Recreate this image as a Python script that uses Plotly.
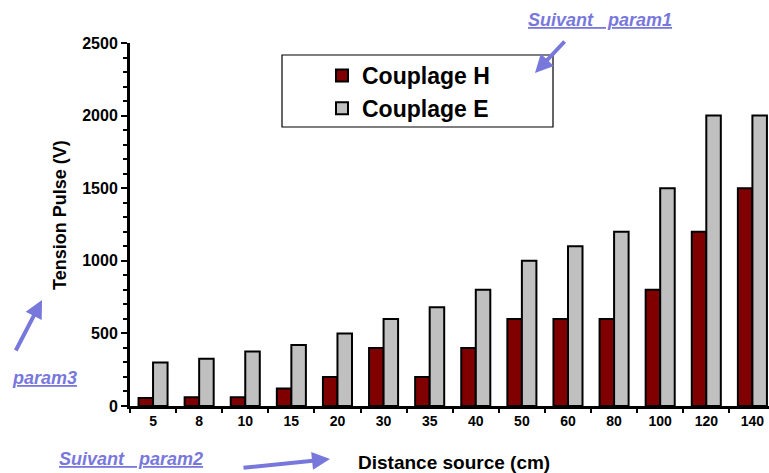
import plotly.graph_objects as go

categories = ["5", "8", "10", "15", "20", "30", "35", "40", "50", "60", "80", "100", "120", "140"]
couplage_h = [55, 60, 60, 120, 200, 400, 200, 400, 600, 600, 600, 800, 1200, 1500]
couplage_e = [300, 325, 375, 420, 500, 600, 680, 800, 1000, 1100, 1200, 1500, 2000, 2000]

FONT = "Arial, Liberation Sans, sans-serif"
BLUE = "#7878dc"

W, H = 769, 473
L, R, T, B = 130, 0, 43, 67
PW, PH = W - L - R, H - T - B


def px(x):
    return (x - L) / PW


def py(y):
    return (H - B - y) / PH


fig = go.Figure()
fig.add_trace(go.Bar(name="Couplage H", x=categories, y=couplage_h, legendgroup="h",
                     marker=dict(color="#800000", line=dict(color="black", width=2))))
fig.add_trace(go.Bar(name="Couplage E", x=categories, y=couplage_e, legendgroup="e",
                     marker=dict(color="#c0c0c0", line=dict(color="black", width=2))))

fig.update_layout(
    width=W, height=H,
    margin=dict(l=L, r=R, t=T, b=B, autoexpand=False),
    paper_bgcolor="white", plot_bgcolor="white",
    barmode="group", bargap=0.37, bargroupgap=0,
    font=dict(family=FONT, color="black"),
    showlegend=True,
    legend=dict(x=px(322), y=py(54), xanchor="left", yanchor="top",
                bgcolor="rgba(0,0,0,0)", borderwidth=0, tracegroupgap=0,
                font=dict(size=23, family=FONT, color="black", weight="bold")),
    xaxis=dict(type="category", range=[-0.5, 13.36], automargin=False,
               showline=True, linewidth=3, linecolor="black",
               ticks="outside", tickson="boundaries", ticklen=4, tickwidth=2, tickcolor="black",
               showgrid=False, zeroline=False,
               tickfont=dict(size=14, family=FONT, weight="bold")),
    yaxis=dict(range=[0, 2500], automargin=False,
               showline=True, linewidth=3, linecolor="black",
               ticks="outside", ticklen=6, tickwidth=2, tickcolor="black",
               tickvals=[0, 500, 1000, 1500, 2000, 2500],
               minor=dict(dtick=100, ticks="outside", ticklen=4, tickwidth=2, tickcolor="black"),
               showgrid=False, zeroline=False,
               tickfont=dict(size=16, family=FONT, weight="bold")),
)

# axis titles
fig.add_annotation(xref="paper", yref="paper", x=px(60), y=py(215), text="Tension Pulse (V)",
                   textangle=-90, showarrow=False, xanchor="center", yanchor="middle",
                   font=dict(size=18, family=FONT, color="black", weight="bold"))
fig.add_annotation(xref="paper", yref="paper", x=px(454), y=py(462), text="Distance source (cm)",
                   showarrow=False, xanchor="center", yanchor="middle",
                   font=dict(size=19, family=FONT, color="black", weight="bold"))

# legend frame
fig.add_shape(type="rect", xref="paper", yref="paper",
              x0=px(282), x1=px(553), y0=py(127), y1=py(55),
              line=dict(color="black", width=1.2), fillcolor="rgba(0,0,0,0)")

ann_font = dict(size=18, family=FONT, color=BLUE, weight="bold", style="italic")
for txt, x, y in [("<u>Suivant&nbsp;&nbsp;&nbsp;param1</u>", 600, 20),
                  ("<u>param3</u>", 44, 378),
                  ("<u>Suivant&nbsp;&nbsp;&nbsp;param2</u>", 131, 459)]:
    fig.add_annotation(xref="paper", yref="paper", x=px(x), y=py(y), text=txt,
                       xanchor="center", yanchor="middle", showarrow=False, font=ann_font)

arrow = dict(showarrow=True, arrowhead=2, arrowsize=0.9, arrowwidth=4, arrowcolor=BLUE, text="",
             xref="paper", yref="paper")
fig.add_annotation(x=px(535), y=py(73), ax=31, ay=-33, **arrow)
fig.add_annotation(x=px(42), y=py(300), ax=-27, ay=52, **arrow)
fig.add_annotation(x=px(330), y=py(459), ax=-88, ay=9, **arrow)

fig.write_html("out.html", config={"displayModeBar": False},
               post_script="document.body.style.margin='0';document.body.style.overflow='hidden';")
